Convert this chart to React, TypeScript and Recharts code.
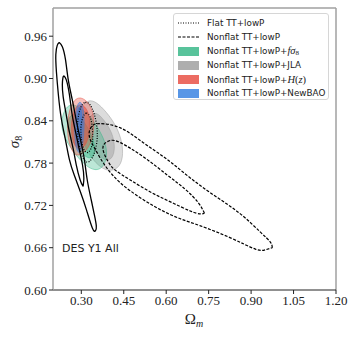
import { ScatterChart, Scatter, XAxis, YAxis, ReferenceLine } from 'recharts';

// axis ticks
const X_TICKS = [0.3, 0.45, 0.6, 0.75, 0.9, 1.05, 1.2];
const Y_TICKS = [0.6, 0.66, 0.72, 0.78, 0.84, 0.9, 0.96];

// contour outlines, [Omega_m, sigma_8]
const DES_OUTER = [
  [0.222, 0.951], [0.233, 0.945], [0.244, 0.927], [0.254, 0.898], [0.268, 0.870], [0.282, 0.841],
  [0.297, 0.813], [0.311, 0.785], [0.321, 0.756], [0.335, 0.728], [0.346, 0.707], [0.353, 0.691],
  [0.350, 0.684], [0.339, 0.688], [0.318, 0.714], [0.297, 0.739], [0.275, 0.763], [0.258, 0.785],
  [0.244, 0.813], [0.229, 0.844], [0.219, 0.877], [0.212, 0.910], [0.210, 0.934], [0.215, 0.947],
];
const DES_INNER = [
  [0.238, 0.904], [0.247, 0.898], [0.258, 0.877], [0.268, 0.848], [0.282, 0.820], [0.293, 0.799],
  [0.304, 0.778], [0.309, 0.759], [0.307, 0.749], [0.305, 0.748], [0.296, 0.756], [0.282, 0.778],
  [0.272, 0.799], [0.258, 0.824], [0.247, 0.848], [0.236, 0.874], [0.233, 0.891], [0.235, 0.901],
];
const NONFLAT_OUTER = [
  [0.975, 0.660], [0.968, 0.668], [0.933, 0.682], [0.862, 0.708], [0.774, 0.733], [0.685, 0.759],
  [0.604, 0.785], [0.519, 0.809], [0.438, 0.830], [0.367, 0.836], [0.339, 0.833], [0.328, 0.824],
  [0.332, 0.813], [0.350, 0.799], [0.385, 0.776], [0.438, 0.752], [0.508, 0.731], [0.579, 0.714],
  [0.650, 0.701], [0.721, 0.691], [0.827, 0.674], [0.915, 0.658], [0.950, 0.657],
];
const NONFLAT_INNER = [
  [0.735, 0.709], [0.713, 0.724], [0.667, 0.743], [0.604, 0.763], [0.519, 0.789], [0.438, 0.809],
  [0.402, 0.812], [0.381, 0.807], [0.378, 0.797], [0.395, 0.782], [0.420, 0.770], [0.473, 0.756],
  [0.544, 0.739], [0.615, 0.725], [0.685, 0.712], [0.721, 0.708],
];
const FLAT_OUTER = [
  [0.297, 0.861], [0.314, 0.868], [0.332, 0.864], [0.346, 0.851], [0.357, 0.831], [0.357, 0.810],
  [0.346, 0.792], [0.328, 0.780], [0.311, 0.782], [0.297, 0.796], [0.286, 0.817], [0.286, 0.841],
];
const FLAT_INNER = [
  [0.304, 0.846], [0.318, 0.853], [0.332, 0.847], [0.339, 0.833], [0.342, 0.813], [0.335, 0.799],
  [0.321, 0.793], [0.307, 0.799], [0.300, 0.813], [0.297, 0.830],
];
const FSIG8_OUTER = [
  [0.229, 0.839], [0.240, 0.856], [0.261, 0.864], [0.289, 0.861], [0.325, 0.849], [0.360, 0.830],
  [0.385, 0.810], [0.392, 0.792], [0.381, 0.776], [0.357, 0.769], [0.325, 0.773], [0.289, 0.787],
  [0.254, 0.806], [0.233, 0.824],
];
const FSIG8_INNER = [
  [0.251, 0.841], [0.268, 0.851], [0.296, 0.846], [0.325, 0.830], [0.346, 0.810], [0.350, 0.792],
  [0.332, 0.785], [0.304, 0.792], [0.272, 0.809], [0.251, 0.827],
];
const JLA_OUTER = [
  [0.304, 0.861], [0.325, 0.870], [0.353, 0.867], [0.388, 0.853], [0.424, 0.833], [0.445, 0.810],
  [0.448, 0.787], [0.431, 0.772], [0.395, 0.768], [0.360, 0.776], [0.325, 0.793], [0.304, 0.813],
  [0.293, 0.836], [0.293, 0.853],
];
const JLA_INNER = [
  [0.332, 0.848], [0.353, 0.853], [0.381, 0.841], [0.410, 0.823], [0.420, 0.802], [0.410, 0.785],
  [0.381, 0.783], [0.353, 0.796], [0.332, 0.816], [0.325, 0.834],
];
const HZ_OUTER = [
  [0.258, 0.856], [0.275, 0.870], [0.296, 0.874], [0.321, 0.868], [0.339, 0.856], [0.346, 0.839],
  [0.342, 0.820], [0.328, 0.803], [0.304, 0.792], [0.279, 0.790], [0.261, 0.802], [0.251, 0.820],
  [0.251, 0.839],
];
const HZ_INNER = [
  [0.272, 0.853], [0.286, 0.863], [0.307, 0.863], [0.325, 0.853], [0.332, 0.837], [0.328, 0.819],
  [0.314, 0.804], [0.293, 0.799], [0.275, 0.804], [0.265, 0.820], [0.265, 0.839],
];
const BAO_OUTER = [
  [0.282, 0.856], [0.289, 0.866], [0.300, 0.867], [0.307, 0.858], [0.311, 0.841], [0.309, 0.820],
  [0.304, 0.802], [0.293, 0.793], [0.282, 0.799], [0.277, 0.816], [0.275, 0.836],
];
const BAO_INNER = [
  [0.286, 0.853], [0.293, 0.861], [0.300, 0.857], [0.304, 0.839], [0.302, 0.817], [0.297, 0.803],
  [0.289, 0.804], [0.284, 0.820], [0.282, 0.839],
];

const GREEN = '#2fb583';
const GRAY = '#9a9a9a';
const RED = '#e8483b';
const BLUE = '#2f7de1';

const SERIF = '"Liberation Serif", "DejaVu Serif", serif';
const SANS = '"DejaVu Sans", sans-serif';

const noDot = () => <g />;

// closed shapes with a sharp tip: start at the tip and repeat it at the end
const tipped = (id: string, pts: number[][], dash?: string, width = 1.3) => (
  <Scatter
    key={id}
    data={[...pts, pts[0]].map(([om, s8]) => ({ om, s8 }))}
    lineType="joint"
    lineJointType="natural"
    line={{ stroke: '#000', strokeWidth: width, fill: 'none', strokeDasharray: dash }}
    shape={noDot}
    isAnimationActive={false}
  />
);

const oval = (id: string, pts: number[][], stroke: string, fill: string, opacity: number, dash?: string, width = 0.8) => (
  <Scatter
    key={id}
    data={pts.map(([om, s8]) => ({ om, s8 }))}
    lineType="joint"
    lineJointType="basisClosed"
    line={{ stroke, strokeWidth: width, strokeOpacity: dash ? 1 : 0.6, fill, fillOpacity: opacity, strokeDasharray: dash }}
    shape={noDot}
    isAnimationActive={false}
  />
);

const tickStyle = { fontFamily: SERIF, fontSize: 13, fill: '#222' };

const Swatch = ({ color }: { color: string }) => (
  <div style={{ width: 21, height: 7, background: color, opacity: 0.8, border: `0.5px solid ${color}` }} />
);

const LineHandle = ({ dash }: { dash: string }) => (
  <svg width={21} height={4}>
    <line x1={0} y1={2} x2={21} y2={2} stroke="#000" strokeWidth={1.1} strokeDasharray={dash} />
  </svg>
);

const mathItalic = { fontFamily: SERIF, fontStyle: 'italic', fontSize: 10.5 } as const;

const legendRows = [
  { handle: <LineHandle dash="1 1.5" />, label: <span>Flat TT+lowP</span> },
  { handle: <LineHandle dash="3 1.5" />, label: <span>Nonflat TT+lowP</span> },
  {
    handle: <Swatch color={GREEN} />,
    label: (
      <span>
        Nonflat TT+lowP+<span style={mathItalic}>fσ</span>
        <sub style={{ fontFamily: SERIF, fontSize: 7, verticalAlign: -1 }}>8</sub>
      </span>
    ),
  },
  { handle: <Swatch color={GRAY} />, label: <span>Nonflat TT+lowP+JLA</span> },
  {
    handle: <Swatch color={RED} />,
    label: (
      <span>
        Nonflat TT+lowP+<span style={mathItalic}>H</span>
        <span style={{ ...mathItalic, fontStyle: 'normal' }}>(</span>
        <span style={mathItalic}>z</span>
        <span style={{ ...mathItalic, fontStyle: 'normal' }}>)</span>
      </span>
    ),
  },
  { handle: <Swatch color={BLUE} />, label: <span>Nonflat TT+lowP+NewBAO</span> },
];

export default function App() {
  return (
    <div style={{ position: 'absolute', left: 0, top: 0, width: 354, height: 337, background: '#fff' }}>
      <ScatterChart width={354} height={337} margin={{ top: 8, right: 18, bottom: 17, left: 8 }}>
        <XAxis
          type="number"
          dataKey="om"
          domain={[0.2, 1.2]}
          ticks={X_TICKS}
          tickFormatter={(v: number) => v.toFixed(2)}
          allowDataOverflow
          height={30}
          tickSize={4}
          tick={tickStyle}
          axisLine={{ stroke: '#222', strokeWidth: 1 }}
          tickLine={{ stroke: '#222' }}
        />
        <YAxis
          type="number"
          dataKey="s8"
          domain={[0.6, 1.0]}
          ticks={Y_TICKS}
          tickFormatter={(v: number) => v.toFixed(2)}
          allowDataOverflow
          width={45}
          tickSize={4}
          tick={tickStyle}
          axisLine={{ stroke: '#a0a0a0', strokeWidth: 1.5 }}
          tickLine={{ stroke: '#222' }}
        />
        <ReferenceLine y={1.0} stroke="#a0a0a0" strokeWidth={1.5} />
        <ReferenceLine x={1.2} stroke="#a0a0a0" strokeWidth={1.5} />

        {oval('jla-out', JLA_OUTER, GRAY, GRAY, 0.35)}
        {oval('jla-in', JLA_INNER, GRAY, GRAY, 0.45)}
        {oval('fs8-out', FSIG8_OUTER, GREEN, GREEN, 0.32)}
        {oval('fs8-in', FSIG8_INNER, GREEN, GREEN, 0.45)}
        {oval('hz-out', HZ_OUTER, RED, RED, 0.35)}
        {oval('hz-in', HZ_INNER, RED, RED, 0.5)}
        {oval('bao-out', BAO_OUTER, BLUE, BLUE, 0.45)}
        {oval('bao-in', BAO_INNER, BLUE, BLUE, 0.55)}

        {oval('flat-out', FLAT_OUTER, '#000', 'none', 0, '1 1.5', 1.2)}
        {oval('flat-in', FLAT_INNER, '#000', 'none', 0, '1 1.5', 1.2)}
        {tipped('nonflat-out', NONFLAT_OUTER, '3 1.5', 1.2)}
        {tipped('nonflat-in', NONFLAT_INNER, '3 1.5', 1.2)}
        {tipped('des-out', DES_OUTER)}
        {tipped('des-in', DES_INNER)}
      </ScatterChart>

      <div
        style={{
          position: 'absolute',
          left: 173,
          top: 13,
          width: 156,
          height: 87,
          border: '1px solid #d6d6d6',
          borderRadius: 3,
          background: 'rgba(255,255,255,0.85)',
          paddingTop: 2,
          boxSizing: 'border-box',
        }}
      >
        {legendRows.map((row, i) => (
          <div key={i} style={{ display: 'flex', alignItems: 'center', height: 14 }}>
            <div style={{ width: 21, marginLeft: 3.5, display: 'flex', alignItems: 'center' }}>{row.handle}</div>
            <div style={{ marginLeft: 8.5, fontFamily: SANS, fontSize: 8.8, color: '#222', whiteSpace: 'nowrap' }}>
              {row.label}
            </div>
          </div>
        ))}
      </div>

      <div style={{ position: 'absolute', left: 62, top: 242, fontFamily: SANS, fontSize: 11, color: '#222' }}>
        DES Y1 All
      </div>

      <div
        style={{
          position: 'absolute',
          left: 14,
          top: 142,
          transform: 'translate(-50%, -50%) rotate(-90deg)',
          fontFamily: SERIF,
          fontSize: 15,
          color: '#222',
          whiteSpace: 'nowrap',
        }}
      >
        <span style={{ fontStyle: 'italic' }}>σ</span>
        <span style={{ fontSize: 10, position: 'relative', top: 3 }}>8</span>
      </div>

      <div
        style={{
          position: 'absolute',
          left: 194,
          top: 319,
          transform: 'translate(-50%, -50%)',
          fontFamily: SERIF,
          fontSize: 15,
          color: '#222',
          whiteSpace: 'nowrap',
        }}
      >
        <span>Ω</span>
        <span style={{ fontSize: 10, fontStyle: 'italic', position: 'relative', top: 3 }}>m</span>
      </div>
    </div>
  );
}
